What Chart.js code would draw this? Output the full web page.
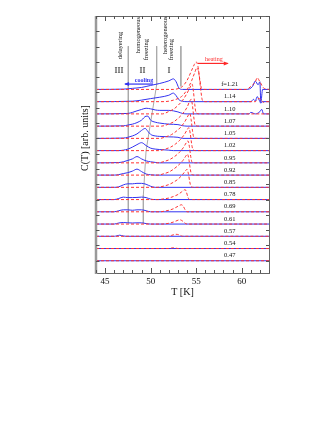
<!DOCTYPE html>
<html>
<head>
<meta charset="utf-8">
<script src="https://cdn.jsdelivr.net/npm/chart.js@4.4.0/dist/chart.umd.min.js"></script>
<style>
  html, body { margin: 0; padding: 0; background: #fff; }
  #wrap { width: 332px; height: 430px; }
</style>
</head>
<body>
<div id="wrap"><canvas id="heatCapChart" width="332" height="430"></canvas></div>
<script>
// Filling fractions, top trace first
const fillings = ['1.21', '1.14', '1.10', '1.07', '1.05', '1.02', '0.95', '0.92', '0.85', '0.78', '0.69', '0.61', '0.57', '0.54', '0.47'];

// x axis tick labels (K)
const tempTicks = [45, 50, 55, 60];

// Cooling runs: [T (K), C (arb. units above own baseline)]
const cool121 = [[44,0],[47,0.02],[48,0.07],[49,0.13],[50,0.26],[51,0.39],[52,0.56],[52.5,0.69],[52.8,0.5],[53.1,0.1],[53.5,0],[60.5,0],[61.2,0.2],[61.5,0.55],[61.8,0.3],[62.0,0.5],[62.1,-0.85],[62.3,0],[63,0]];
const cool114 = [[44,0],[48,0.03],[49,0.1],[50,0.2],[51,0.29],[52,0.42],[52.5,0.56],[52.8,0.39],[53.1,0.13],[53.5,0.03],[54,0],[61,0],[61.3,0.15],[61.5,0.05],[61.7,0.33],[62.0,0],[62.1,-0.1],[62.3,0],[63,0]];
const cool110 = [[44,0],[47.5,0.03],[48,0.1],[48.5,0.2],[49,0.29],[49.5,0.37],[50,0.33],[50.5,0.26],[51,0.23],[52,0.23],[52.5,0.2],[53,0.13],[53.5,0.03],[54,0],[60.8,0],[61,0.1],[61.5,0],[62,0.15],[62.2,0.3],[62.4,0],[63,0]];
const cool107 = [[44,0],[47,0.02],[47.5,0.07],[48,0.13],[48.5,0.23],[49,0.39],[49.5,0.65],[49.7,0.65],[50,0.39],[50.5,0.26],[51,0.2],[52,0.13],[53,0.1],[53.5,0.03],[54,0],[63,0]];
const cool105 = [[44,0],[47,0.02],[47.5,0.07],[48,0.16],[48.5,0.29],[49,0.52],[49.4,0.65],[49.7,0.46],[50,0.26],[50.5,0.16],[51,0.13],[52,0.1],[53,0.07],[53.5,0],[63,0]];
const cool102 = [[44,0],[46.5,0],[47,0.03],[47.5,0.1],[48,0.23],[48.5,0.39],[49,0.52],[49.5,0.33],[50,0.16],[50.5,0.1],[51,0.07],[52,0.03],[52.5,0],[63,0]];
const cool095 = [[44,0],[46.5,0.02],[47,0.07],[47.5,0.16],[48,0.26],[48.5,0.41],[49,0.26],[49.5,0.13],[50,0.07],[50.5,0.03],[51,0],[63,0]];
const cool092 = [[44,0],[46,0],[46.5,0.03],[47,0.1],[47.5,0.16],[48,0.26],[48.5,0.39],[49,0.23],[49.5,0.07],[50,0.02],[50.5,0],[63,0]];
const cool085 = [[44,0],[46,0],[46.5,0.03],[47,0.16],[47.5,0.23],[48,0.23],[48.5,0.26],[49,0.26],[49.5,0.2],[50,0.07],[50.5,0],[63,0]];
const cool078 = [[44,0],[46,0],[46.5,0.07],[47,0.16],[47.5,0.13],[48,0.13],[48.5,0.14],[49,0.16],[49.5,0.13],[50,0.03],[50.5,0],[63,0]];
const cool069 = [[44,0],[46,0],[46.5,0.07],[47,0.13],[47.5,0.13],[48,0.1],[48.5,0.13],[49,0.13],[49.5,0.07],[50,0],[63,0]];
const cool061 = [[44,0],[46,0],[46.5,0.07],[47,0.1],[47.5,0.08],[48,0.07],[48.5,0.08],[49,0.08],[49.5,0.03],[50,0],[63,0]];
const cool057 = [[44,0],[46,0],[46.3,0.03],[46.6,0.07],[47,0.02],[47.3,0],[63,0]];
const cool054 = [[44,0],[63,0]];
const cool047 = [[44,0],[63,0]];

// Heating runs: [T (K), C (arb. units above own baseline)]
const heat121 = [[44,0],[52.5,0],[53,0.05],[53.5,0.2],[54,0.59],[54.5,1.24],[54.8,1.63],[55.0,1.8],[55.2,1.5],[55.4,0.65],[55.6,0.07],[56,0],[60.5,0],[61,0.2],[61.5,0.5],[61.7,0.76],[62,0.5],[62.4,0.1],[63,0]];
const heat114 = [[44,0],[51,0],[52,0.03],[52.5,0.1],[53,0.2],[53.5,0.39],[54,0.78],[54.5,1.37],[54.8,1.83],[55.1,2.22],[55.3,1.83],[55.5,0.78],[55.7,0.07],[56,0],[61.5,0],[61.8,0.2],[62.1,0.15],[62.4,-0.05],[62.7,0],[63,0]];
const heat110 = [[44,0],[51.3,0],[52,0.16],[52.5,0.3],[53,0.55],[53.5,0.88],[54,1.35],[54.35,1.76],[54.55,1.96],[54.7,1.47],[54.85,0.6],[55,0.06],[55.4,0],[63,0]];
const heat107 = [[44,0],[51.2,0],[52,0.14],[52.5,0.27],[53,0.5],[53.5,0.8],[54,1.23],[54.25,1.58],[54.45,1.76],[54.6,1.32],[54.75,0.53],[54.9,0.05],[55.3,0],[63,0]];
const heat105 = [[44,0],[51,0],[51.8,0.13],[52.3,0.25],[52.8,0.46],[53.3,0.73],[53.8,1.14],[54.1,1.47],[54.3,1.63],[54.45,1.22],[54.6,0.49],[54.75,0.05],[55.1,0],[63,0]];
const heat102 = [[44,0],[50.9,0],[51.7,0.12],[52.2,0.23],[52.7,0.42],[53.2,0.68],[53.7,1.05],[54,1.35],[54.2,1.5],[54.35,1.13],[54.5,0.45],[54.65,0.05],[55,0],[63,0]];
const heat095 = [[44,0],[50.8,0],[51.6,0.11],[52.1,0.22],[52.6,0.4],[53.1,0.65],[53.6,1.0],[53.9,1.3],[54.1,1.44],[54.25,1.08],[54.4,0.43],[54.55,0.04],[54.9,0],[63,0]];
const heat092 = [[44,0],[50.8,0],[51.5,0.1],[52,0.2],[52.5,0.38],[53,0.62],[53.55,0.96],[53.85,1.23],[54.05,1.37],[54.2,1.03],[54.35,0.41],[54.5,0.04],[54.85,0],[63,0]];
const heat085 = [[44,0],[50.7,0],[51.5,0.09],[52,0.18],[52.5,0.33],[53,0.53],[53.5,0.83],[53.8,1.06],[54,1.18],[54.15,0.88],[54.3,0.35],[54.45,0.03],[54.8,0],[63,0]];
const heat078 = [[44,0],[50.8,0],[51.5,0.05],[52,0.1],[52.5,0.2],[53,0.33],[53.4,0.5],[53.6,0.6],[53.8,0.65],[53.95,0.45],[54.1,0.15],[54.25,0.01],[54.5,0],[63,0]];
const heat069 = [[44,0],[51,0],[51.6,0.05],[52,0.1],[52.5,0.2],[53,0.36],[53.4,0.46],[53.6,0.35],[53.8,0.12],[54,0],[63,0]];
const heat061 = [[44,0],[51.2,0],[52,0.05],[52.5,0.13],[53,0.25],[53.2,0.28],[53.5,0.2],[53.8,0.05],[54,0],[63,0]];
const heat057 = [[44,0],[51.8,0],[52.3,0.06],[52.8,0.13],[53.2,0.08],[53.5,0],[63,0]];
const heat054 = [[44,0],[52,0],[52.5,0.05],[53,0],[63,0]];
const heat047 = [[44,0],[63,0]];

const coolingRuns = [cool121, cool114, cool110, cool107, cool105, cool102, cool095, cool092, cool085, cool078, cool069, cool061, cool057, cool054, cool047];
const heatingRuns = [heat121, heat114, heat110, heat107, heat105, heat102, heat095, heat092, heat085, heat078, heat069, heat061, heat057, heat054, heat047];

// Regime boundaries (T, C in plot units)
const boundaryIII = [[47.55,14.03],[47.55,2.46]];
const boundaryII = [[50.66,14.03],[50.66,11.5],[49.5,7.2],[49.2,4.3],[49.2,2.45]];
const boundaryI = [[53.32,14.03],[53.32,11.4]];

const traceStep = 0.8;

function shifted(curve, k) {
    const off = (fillings.length - 1 - k) * traceStep;
    return curve.map(p => ({ x: p[0], y: p[1] + off }));
}

const datasets = [];
fillings.forEach((f, k) => {
    datasets.push({
        data: shifted(coolingRuns[k], k),
        borderColor: 'rgb(50,50,240)',
        borderWidth: 1,
        cubicInterpolationMode: 'monotone',
        order: 2
    });
    datasets.push({
        data: shifted(heatingRuns[k], k),
        borderColor: 'rgb(255,50,50)',
        borderWidth: 1,
        borderDash: [3, 2],
        cubicInterpolationMode: 'monotone',
        order: 1
    });
});
[boundaryIII, boundaryII, boundaryI].forEach(b => {
    datasets.push({
        data: b.map(p => ({ x: p[0], y: p[1] })),
        borderColor: '#aaaaaa',
        borderWidth: 1,
        tension: 0,
        order: 3
    });
});

const serif = "'Liberation Serif', 'DejaVu Serif', serif";

function drawArrow(ctx, x1, y1, x2, y2, color) {
    ctx.strokeStyle = color;
    ctx.fillStyle = color;
    ctx.lineWidth = 1.2;
    ctx.beginPath();
    ctx.moveTo(x1, y1);
    ctx.lineTo(x2, y2);
    ctx.stroke();
    const dir = Math.sign(x2 - x1);
    ctx.beginPath();
    ctx.moveTo(x2 + dir * 1, y2);
    ctx.lineTo(x2 - dir * 4, y2 - 2);
    ctx.lineTo(x2 - dir * 4, y2 + 2);
    ctx.closePath();
    ctx.fill();
}

const decorPlugin = {
    id: 'decor',
    afterDatasetsDraw(chart) {
        const { ctx, chartArea: a, scales: { x, y } } = chart;
        ctx.save();

        // frame
        ctx.strokeStyle = '#666';
        ctx.lineWidth = 1;
        ctx.strokeRect(a.left + 0.5, a.top + 0.5, a.right - a.left, a.bottom - a.top);
        ctx.strokeStyle = '#9a9a9a';
        ctx.lineWidth = 2.5;
        ctx.beginPath();
        ctx.moveTo(a.left, a.top);
        ctx.lineTo(a.left, a.bottom + 1);
        ctx.stroke();

        // inward ticks
        ctx.strokeStyle = '#555';
        ctx.lineWidth = 1;
        ctx.beginPath();
        for (let t = 44; t <= 63; t++) {
            const px = Math.round(x.getPixelForValue(t)) + 0.5;
            const len = t % 5 === 0 ? 5 : 3;
            ctx.moveTo(px, a.bottom);
            ctx.lineTo(px, a.bottom - len);
            ctx.moveTo(px, a.top);
            ctx.lineTo(px, a.top + len);
        }
        for (let v = 0; v <= 16; v++) {
            const py = Math.round(y.getPixelForValue(v)) + 0.5;
            ctx.moveTo(a.left, py);
            ctx.lineTo(a.left + 3.5, py);
            ctx.moveTo(a.right, py);
            ctx.lineTo(a.right - 3, py);
        }
        ctx.stroke();

        // filling labels
        ctx.fillStyle = '#111';
        ctx.font = '6.5px ' + serif;
        ctx.textAlign = 'center';
        ctx.textBaseline = 'middle';
        fillings.forEach((f, k) => {
            const off = (fillings.length - 1 - k) * traceStep;
            const txt = k === 0 ? 'f=' + f : f;
            ctx.fillText(txt, x.getPixelForValue(58.69), y.getPixelForValue(off + 0.33));
        });

        // regime labels
        ctx.font = '9px ' + serif;
        ctx.fillText('III', x.getPixelForValue(46.53), y.getPixelForValue(12.43));
        ctx.fillText('II', x.getPixelForValue(49.11), y.getPixelForValue(12.43));
        ctx.fillText('I', x.getPixelForValue(52.01), y.getPixelForValue(12.43));

        // rotated regime names
        ctx.font = '6.5px ' + serif;
        const vtext = (txt, t, v) => {
            ctx.save();
            ctx.translate(x.getPixelForValue(t), y.getPixelForValue(v));
            ctx.rotate(-Math.PI / 2);
            ctx.fillText(txt, 0, 0);
            ctx.restore();
        };
        vtext('delayering', 46.70, 14.07);
        vtext('homogeneous', 48.61, 14.75);
        vtext('freezing', 49.55, 13.8);
        vtext('heterogeneous', 51.57, 14.75);
        vtext('freezing', 52.28, 13.8);

        // cooling / heating arrows
        ctx.font = 'bold 6px ' + serif;
        ctx.fillStyle = 'rgb(50,50,240)';
        ctx.fillText('cooling', x.getPixelForValue(49.27), y.getPixelForValue(11.78));
        drawArrow(ctx, x.getPixelForValue(50.26), y.getPixelForValue(11.55),
                  x.getPixelForValue(47.19), y.getPixelForValue(11.55), 'rgb(50,50,240)');
        ctx.font = '6px ' + serif;
        ctx.fillStyle = 'rgb(255,40,40)';
        ctx.fillText('heating', x.getPixelForValue(56.94), y.getPixelForValue(13.18));
        drawArrow(ctx, x.getPixelForValue(55.19), y.getPixelForValue(12.9),
                  x.getPixelForValue(58.47), y.getPixelForValue(12.9), 'rgb(255,40,40)');

        // axis titles
        ctx.fillStyle = '#111';
        ctx.font = '10px ' + serif;
        ctx.fillText('T [K]', (a.left + a.right) / 2 + 0, 292.5);
        ctx.save();
        ctx.translate(85, 138);
        ctx.rotate(-Math.PI / 2);
        ctx.fillText('C(T) [arb. units]', 0, 0);
        ctx.restore();

        ctx.restore();
    }
};

new Chart(document.getElementById('heatCapChart'), {
    type: 'scatter',
    data: { datasets: datasets },
    options: {
        responsive: false,
        animation: false,
        showLine: true,
        elements: { point: { radius: 0, hoverRadius: 0 } },
        layout: { padding: { left: 0, top: 16, right: 63, bottom: 0 } },
        plugins: { legend: { display: false }, tooltip: { enabled: false } },
        scales: {
            x: {
                type: 'linear',
                min: 44,
                max: 63,
                afterFit: s => { s.height = 157; },
                afterBuildTicks: s => { s.ticks = tempTicks.map(v => ({ value: v })); },
                grid: { display: false, drawTicks: false },
                border: { display: false },
                ticks: { color: '#111', padding: 3, font: { family: serif, size: 9 } }
            },
            y: {
                type: 'linear',
                min: -0.8,
                max: 16,
                afterFit: s => { s.width = 96; },
                grid: { display: false, drawTicks: false },
                border: { display: false },
                ticks: { display: false }
            }
        }
    },
    plugins: [decorPlugin]
});
</script>
</body>
</html>
